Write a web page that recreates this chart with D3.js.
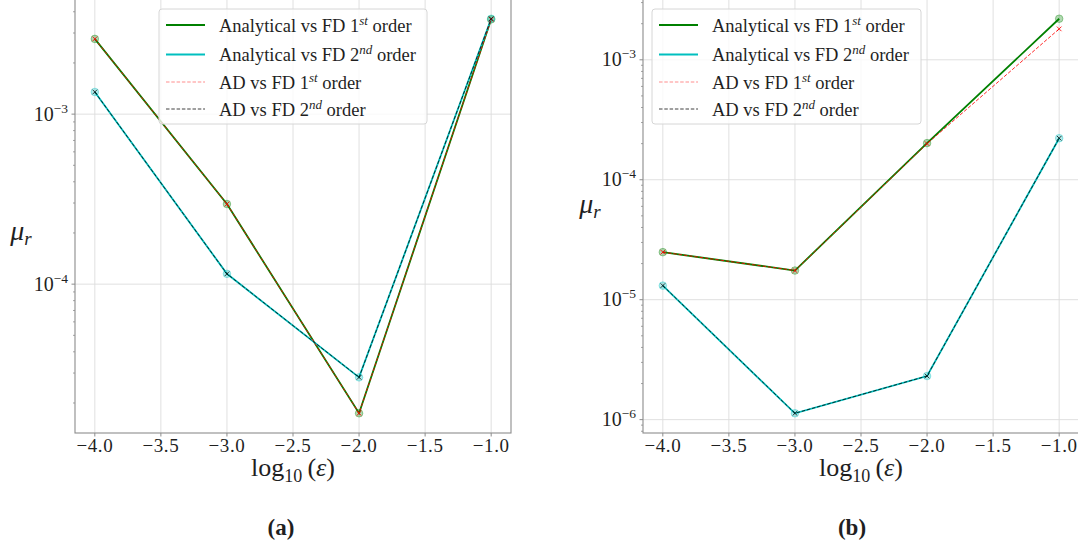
<!DOCTYPE html>
<html>
<head>
<meta charset="utf-8">
<script src="https://cdn.jsdelivr.net/npm/d3@7"></script>
<style>
  html, body { margin: 0; padding: 0; background: #ffffff; }
  svg { display: block; }
  text { font-family: "Liberation Serif", "DejaVu Serif", serif; fill: #1f1f1f; }
</style>
</head>
<body>
<svg id="fig" width="1078" height="546" font-family="Liberation Serif, DejaVu Serif, serif"></svg>
<script>
// Step sizes (log10 of epsilon)
const logEps = [-4, -3, -2, -1];

// Panel (a): relative error mu_r
const analyticalFirstA  = [2.77e-3, 2.96e-4, 1.74e-5, 3.61e-3];
const analyticalSecondA = [1.35e-3, 1.15e-4, 2.83e-5, 3.64e-3];
const adFirstA          = [2.77e-3, 2.96e-4, 1.74e-5, 3.61e-3];
const adSecondA         = [1.35e-3, 1.15e-4, 2.83e-5, 3.64e-3];

// Panel (b): relative error mu_r
const analyticalFirstB  = [2.49e-5, 1.75e-5, 2.02e-4, 2.20e-3];
const analyticalSecondB = [1.31e-5, 1.13e-6, 2.31e-6, 2.22e-4];
const adFirstB          = [2.49e-5, 1.75e-5, 2.00e-4, 1.81e-3];
const adSecondB         = [1.31e-5, 1.13e-6, 2.31e-6, 2.22e-4];

// Axis ticks
const xTickValues = [-4.0, -3.5, -3.0, -2.5, -2.0, -1.5, -1.0];
const yTickExponents = [-6, -5, -4, -3];

// Legend entries
const seriesNames = ["Analytical vs FD 1", "Analytical vs FD 2", "AD vs FD 1", "AD vs FD 2"];
const seriesSup = ["st", "nd", "st", "nd"];
const panelLabels = ["(a)", "(b)"];

const svg = d3.select("#fig");
const minus = s => s.replace(/-/g, "\u2212");

const styles = [
  { color: "#008000", width: 1.8, dash: null, opacity: 1, marker: "o" },
  { color: "#00bfbf", width: 1.8, dash: null, opacity: 1, marker: "o" },
  { color: "#ff0000", width: 1.0, dash: "3.5,1.8", opacity: 0.85, marker: "x" },
  { color: "#000000", width: 1.0, dash: "3.5,1.8", opacity: 0.75, marker: "x" }
];

function drawPanel(p) {
  const g = svg.append("g");
  const x = d3.scaleLinear().domain([-4.15, -0.85]).range([p.left, p.right]);

  const allVals = p.series.flat();
  const lo = Math.log10(d3.min(allVals)), hi = Math.log10(d3.max(allVals));
  const pad = 0.05 * (hi - lo);
  const y = d3.scaleLog().domain([10 ** (lo - pad), 10 ** (hi + pad)]).range([p.bottom, p.top]);
  const [d0, d1] = y.domain();

  // Clip region for the plotting area
  const clipId = "clip" + p.id;
  g.append("clipPath").attr("id", clipId).append("rect")
    .attr("x", p.left).attr("y", p.top).attr("width", p.right - p.left).attr("height", p.bottom - p.top);

  // Grid
  const grid = g.append("g").attr("stroke", "#dcdcdc").attr("stroke-width", 0.9);
  xTickValues.forEach(v => grid.append("line")
    .attr("x1", x(v)).attr("x2", x(v)).attr("y1", p.top).attr("y2", p.bottom));
  const yMajor = yTickExponents.map(e => 10 ** e).filter(v => v >= d0 && v <= d1);
  yMajor.forEach(v => grid.append("line")
    .attr("x1", p.left).attr("x2", p.right).attr("y1", y(v)).attr("y2", y(v)));

  // Series lines
  const line = d3.line().x((d, i) => x(logEps[i])).y(d => y(d));
  const plot = g.append("g").attr("clip-path", `url(#${clipId})`);
  p.series.forEach((vals, k) => {
    const s = styles[k];
    plot.append("path").datum(vals)
      .attr("d", line)
      .attr("fill", "none")
      .attr("stroke", s.color)
      .attr("stroke-width", s.width)
      .attr("stroke-opacity", s.opacity)
      .attr("stroke-dasharray", s.dash);
    vals.forEach((v, i) => {
      const cx = x(logEps[i]), cy = y(v);
      if (s.marker === "o") {
        plot.append("circle").attr("cx", cx).attr("cy", cy).attr("r", 3.8)
          .attr("fill", s.color).attr("fill-opacity", 0.3)
          .attr("stroke", s.color).attr("stroke-opacity", 0.35).attr("stroke-width", 1);
      } else {
        const r = 2.3;
        plot.append("path")
          .attr("d", `M${cx - r},${cy - r}L${cx + r},${cy + r}M${cx - r},${cy + r}L${cx + r},${cy - r}`)
          .attr("stroke", s.color).attr("stroke-opacity", s.opacity).attr("stroke-width", 1);
      }
    });
  });

  // Spines
  const spine = g.append("g").attr("stroke", "#8c8c8c").attr("stroke-width", 1.1).attr("fill", "none");
  spine.append("rect").attr("x", p.left).attr("y", p.top)
    .attr("width", p.right - p.left).attr("height", p.bottom - p.top);

  // X axis ticks and labels
  xTickValues.forEach(v => {
    g.append("line").attr("x1", x(v)).attr("x2", x(v))
      .attr("y1", p.bottom).attr("y2", p.bottom + 3.5)
      .attr("stroke", "#8c8c8c").attr("stroke-width", 1);
    g.append("text").attr("x", x(v)).attr("y", p.bottom + 18.5)
      .attr("text-anchor", "middle").attr("font-size", 19)
      .style("letter-spacing", "0.6px")
      .text(minus(v.toFixed(1)));
  });

  // Y axis: minor ticks
  for (let e = Math.floor(Math.log10(d0)); e <= Math.ceil(Math.log10(d1)); e++) {
    for (let m = 2; m <= 9; m++) {
      const v = m * 10 ** e;
      if (v < d0 || v > d1) continue;
      g.append("line").attr("x1", p.left - 2).attr("x2", p.left)
        .attr("y1", y(v)).attr("y2", y(v))
        .attr("stroke", "#8c8c8c").attr("stroke-width", 0.8);
    }
  }
  // Y axis: major ticks and labels
  yTickExponents.forEach(e => {
    const v = 10 ** e;
    if (v < d0 || v > d1) return;
    g.append("line").attr("x1", p.left - 3.5).attr("x2", p.left)
      .attr("y1", y(v)).attr("y2", y(v))
      .attr("stroke", "#8c8c8c").attr("stroke-width", 1);
    const t = g.append("text").attr("x", p.left - 7).attr("y", y(v) + 6.5)
      .attr("text-anchor", "end").attr("font-size", 20);
    t.append("tspan").text("10");
    t.append("tspan").attr("dy", -8).attr("font-size", 13.5).text(minus(String(e)));
  });

  // Axis labels
  const xl = g.append("text").attr("x", (p.left + p.right) / 2).attr("y", p.bottom + 43)
    .attr("text-anchor", "middle").attr("font-size", 26);
  xl.append("tspan").text("log");
  xl.append("tspan").attr("dy", 6).attr("font-size", 18).text("10");
  xl.append("tspan").attr("dy", -6).text("\u2009(");
  xl.append("tspan").attr("font-style", "italic").text("\u03b5");
  xl.append("tspan").text(")");

  const yl = g.append("text").attr("x", p.yLabelX).attr("y", p.yLabelY)
    .attr("text-anchor", "middle").attr("font-size", 28).attr("font-style", "italic");
  yl.append("tspan").text("\u03bc");
  yl.append("tspan").attr("dy", 5).attr("font-size", 19).text("r");

  // Legend
  const lg = g.append("g");
  lg.append("rect").attr("x", p.legX).attr("y", p.legY).attr("width", p.legW).attr("height", 115)
    .attr("rx", 3).attr("fill", "#ffffff").attr("fill-opacity", 0.8)
    .attr("stroke", "#d6d6d6").attr("stroke-width", 1);
  const rowY = [25, 54.5, 82, 109];
  seriesNames.forEach((name, k) => {
    const s = styles[k];
    const ry = rowY[k];
    lg.append("line").attr("x1", p.legX + 7).attr("x2", p.legX + 46)
      .attr("y1", ry).attr("y2", ry)
      .attr("stroke", s.color).attr("stroke-width", s.width)
      .attr("stroke-opacity", k === 2 ? 0.45 : s.opacity)
      .attr("stroke-dasharray", s.dash);
    const t = lg.append("text").attr("x", p.legX + 60).attr("y", ry + 6.5).attr("font-size", 18.5);
    t.append("tspan").text(name);
    t.append("tspan").attr("dy", -7).attr("font-size", 13).attr("font-style", "italic").text(seriesSup[k]);
    t.append("tspan").attr("dy", 7).text(" order");
  });

  // Panel caption
  svg.append("text").attr("x", p.capX).attr("y", 535)
    .attr("text-anchor", "middle").attr("font-size", 23).attr("font-weight", "bold")
    .text(p.caption);
}

drawPanel({
  id: "a", left: 75, right: 511, top: -1, bottom: 433,
  series: [analyticalFirstA, analyticalSecondA, adFirstA, adSecondA],
  yLabelX: 21, yLabelY: 240,
  legX: 159, legY: 9, legW: 268,
  capX: 281, caption: panelLabels[0]
});

drawPanel({
  id: "b", left: 643, right: 1079, top: -1, bottom: 433,
  series: [analyticalFirstB, analyticalSecondB, adFirstB, adSecondB],
  yLabelX: 590, yLabelY: 213,
  legX: 652, legY: 9, legW: 269,
  capX: 852, caption: panelLabels[1]
});
</script>
</body>
</html>
